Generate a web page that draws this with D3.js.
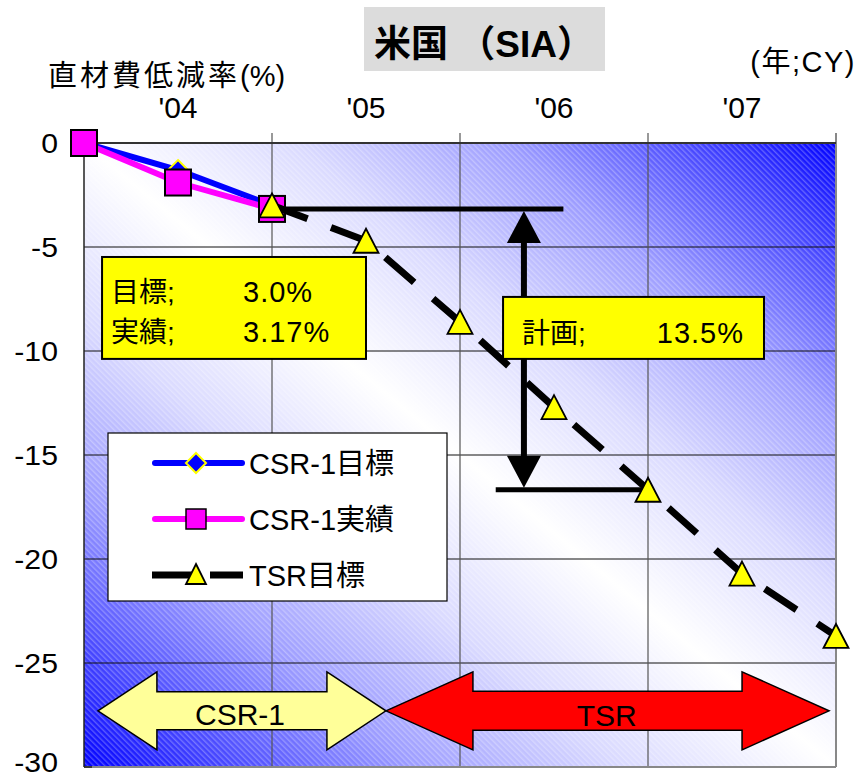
<!DOCTYPE html>
<html>
<head>
<meta charset="utf-8">
<script src="https://cdn.jsdelivr.net/npm/d3@7"></script>
<style>
  html, body { margin: 0; padding: 0; background: #ffffff; }
  svg { display: block; }
  text { font-family: "Liberation Sans", Arial, "Noto Sans CJK JP", sans-serif; fill: #000; }
</style>
</head>
<body>
<svg id="chart" width="864" height="780"></svg>
<script>
// Half-year time points (calendar years), reduction rates in %
const csrTime = [2004.0, 2004.5, 2005.0];
const csrTarget = [0, -1.3, -3.0];
const csrActual = [0, -1.9, -3.17];
const tsrTime = [2005.0, 2005.5, 2006.0, 2006.5, 2007.0, 2007.5, 2008.0];
const tsrTarget = [-3.0, -4.7, -8.6, -12.7, -16.67, -20.7, -23.7];

const yearTicks = [2004.5, 2005.5, 2006.5, 2007.5];
const yearLabels = ["'04", "'05", "'06", "'07"];
const gridYears = [2005, 2006, 2007];
const valueTicks = [0, -5, -10, -15, -20, -25, -30];

const planReduction = 13.5;
const targetText = "3.0%";
const actualText = "3.17%";
const planText = "13.5%";

const svg = d3.select("#chart");
const defs = svg.append("defs");

const x = d3.scaleLinear().domain([2004, 2008]).range([84, 836]);
const y = d3.scaleLinear().domain([0, -30]).range([143, 767]);

// Plot background: blue corners fading to a white diagonal, with fine hatching
const grad = defs.append("linearGradient").attr("id", "bg")
  .attr("x1", 1).attr("y1", 0).attr("x2", 0).attr("y2", 1);
[[0, "#0000ff"], [0.1, "#4848ff"], [0.22, "#9c9cff"], [0.36, "#dadaff"], [0.5, "#ffffff"],
 [0.64, "#dadaff"], [0.78, "#9c9cff"], [0.9, "#4848ff"], [1, "#0000ff"]]
  .forEach(([o, c]) => grad.append("stop").attr("offset", o).attr("stop-color", c));

const hatch = defs.append("pattern").attr("id", "hatch")
  .attr("patternUnits", "userSpaceOnUse").attr("width", 4).attr("height", 4)
  .attr("patternTransform", "rotate(-45)");
hatch.append("rect").attr("x", 0).attr("y", 0).attr("width", 1.4).attr("height", 4)
  .attr("fill", "#ffffff").attr("fill-opacity", 0.28);

const [x0, x1] = x.range();
const [y0, y1] = y.range();
svg.append("rect").attr("x", x0).attr("y", y0).attr("width", x1 - x0).attr("height", y1 - y0)
  .attr("fill", "url(#bg)");
svg.append("rect").attr("x", x0).attr("y", y0).attr("width", x1 - x0).attr("height", y1 - y0)
  .attr("fill", "url(#hatch)");

// Grid lines
svg.append("g").selectAll("line").data(valueTicks.filter(v => v !== 0 && v !== -30)).join("line")
  .attr("x1", x0).attr("x2", x1).attr("y1", d => y(d)).attr("y2", d => y(d))
  .attr("stroke", "#111").attr("stroke-width", 1);
svg.append("g").selectAll("line").data(gridYears).join("line")
  .attr("x1", d => x(d)).attr("x2", d => x(d)).attr("y1", y0 - 10).attr("y2", y1)
  .attr("stroke", "#555").attr("stroke-width", 1.2);
// Frame
svg.append("line").attr("x1", x1).attr("x2", x1).attr("y1", y0 - 10).attr("y2", y1)
  .attr("stroke", "#888").attr("stroke-width", 2);
svg.append("line").attr("x1", x0).attr("x2", x1).attr("y1", y1).attr("y2", y1)
  .attr("stroke", "#888").attr("stroke-width", 2);
svg.append("line").attr("x1", x0).attr("x2", x1).attr("y1", y0).attr("y2", y0)
  .attr("stroke", "#333").attr("stroke-width", 2);
svg.append("line").attr("x1", x0).attr("x2", x0).attr("y1", y0).attr("y2", y1)
  .attr("stroke", "#222").attr("stroke-width", 1.5);
svg.append("line").attr("x1", x0).attr("x2", x0 + 8).attr("y1", y1).attr("y2", y1)
  .attr("stroke", "#222").attr("stroke-width", 1.5);

// Value axis labels (plain hyphen as minus sign); the lowest one is kept inside the page
svg.append("g").selectAll("text").data(valueTicks).join("text")
  .attr("transform", d => `translate(58,${Math.min(y(d) + 10, 772)}) scale(1.12,1)`)
  .attr("text-anchor", "end").attr("font-size", 27)
  .text(d => String(d));

// Year labels on top
svg.append("g").selectAll("text").data(yearTicks).join("text")
  .attr("x", d => x(d)).attr("y", 118).attr("text-anchor", "middle").attr("font-size", 30)
  .text((d, i) => yearLabels[i]);

const yTitle = svg.append("text").attr("x", 48).attr("y", 86).attr("font-size", 29);
yTitle.append("tspan").attr("letter-spacing", 3).text("直材費低減率");
yTitle.append("tspan").text("(%)");
svg.append("text").attr("x", 856).attr("y", 72).attr("text-anchor", "end").attr("font-size", 29)
  .attr("letter-spacing", 1.5).text("(年;CY)");

// Title
svg.append("rect").attr("x", 364).attr("y", 7).attr("width", 241).attr("height", 64).attr("fill", "#dcdcdc");
svg.append("text").attr("x", 484).attr("y", 57).attr("text-anchor", "middle")
  .attr("font-size", 37).attr("font-weight", "bold").text("米国 （SIA）");

// Horizontal double arrow shape (annotation of plan periods)
function hArrow(xa, xb, yc, head, halfHead, halfShaft) {
  return `M${xa},${yc} L${xa + head},${yc - halfHead} L${xa + head},${yc - halfShaft}
    L${xb - head},${yc - halfShaft} L${xb - head},${yc - halfHead} L${xb},${yc}
    L${xb - head},${yc + halfHead} L${xb - head},${yc + halfShaft} L${xa + head},${yc + halfShaft}
    L${xa + head},${yc + halfHead} Z`;
}
const spanY = y(-27.3);
svg.append("path").attr("d", hArrow(x(2004.074), x(2005.606), spanY, 59, 39, 19))
  .attr("fill", "#ffff99").attr("stroke", "#000").attr("stroke-width", 1.5).attr("stroke-linejoin", "miter");
svg.append("path").attr("d", hArrow(x(2005.606), x(2007.963), spanY, 87, 39, 19.5))
  .attr("fill", "#ff0000").attr("stroke", "#000").attr("stroke-width", 1.5);
svg.append("text").attr("x", x(2004.83)).attr("y", spanY + 14).attr("text-anchor", "middle")
  .attr("font-size", 30).text("CSR-1");
svg.append("text").attr("x", x(2006.78)).attr("y", spanY + 15).attr("text-anchor", "middle")
  .attr("font-size", 30).text("TSR");

// Plan annotation: bracket lines and vertical double arrow
const planTop = csrActual[csrActual.length - 1];
const planBottom = planTop - planReduction;
svg.append("line").attr("x1", x(2005.0)).attr("x2", x(2006.55))
  .attr("y1", y(planTop)).attr("y2", y(planTop)).attr("stroke", "#000").attr("stroke-width", 5);
svg.append("line").attr("x1", x(2006.19)).attr("x2", x(2007.02))
  .attr("y1", y(planBottom)).attr("y2", y(planBottom)).attr("stroke", "#000").attr("stroke-width", 5);
const ax = x(2006.34), ayT = y(planTop) + 2, ayB = y(planBottom) - 2;
svg.append("line").attr("x1", ax).attr("x2", ax).attr("y1", ayT + 25).attr("y2", ayB - 25)
  .attr("stroke", "#000").attr("stroke-width", 6);
svg.append("path").attr("d", `M${ax},${ayT} L${ax - 17},${ayT + 32} L${ax + 17},${ayT + 32} Z`).attr("fill", "#000");
svg.append("path").attr("d", `M${ax},${ayB} L${ax - 17},${ayB - 32} L${ax + 17},${ayB - 32} Z`).attr("fill", "#000");

// Series lines and markers
const line = d3.line().x(d => x(d[0])).y(d => y(d[1]));
const csrT = csrTime.map((t, i) => [t, csrTarget[i]]);
const csrA = csrTime.map((t, i) => [t, csrActual[i]]);
const tsr = tsrTime.map((t, i) => [t, tsrTarget[i]]);

svg.append("path").attr("d", line(csrT)).attr("fill", "none").attr("stroke", "#0000ff").attr("stroke-width", 6);
svg.append("path").attr("d", line(csrA)).attr("fill", "none").attr("stroke", "#ff00ff").attr("stroke-width", 6);

const diamond = (cx, cy, r) => `M${cx},${cy - r} L${cx + r},${cy} L${cx},${cy + r} L${cx - r},${cy} Z`;
const triangle = (cx, cy, w, h) => `M${cx},${cy - h / 2} L${cx + w / 2},${cy + h / 2} L${cx - w / 2},${cy + h / 2} Z`;

svg.append("g").selectAll("path").data(csrT).join("path")
  .attr("d", d => diamond(x(d[0]), y(d[1]), 10))
  .attr("fill", "#0000ff").attr("stroke", "#ffff00").attr("stroke-width", 2);
svg.append("g").selectAll("rect").data(csrA).join("rect")
  .attr("x", d => x(d[0]) - 13).attr("y", d => y(d[1]) - 13).attr("width", 26).attr("height", 26)
  .attr("fill", "#ff00ff").attr("stroke", "#000").attr("stroke-width", 2);

svg.append("path").attr("d", line(tsr)).attr("fill", "none").attr("stroke", "#000")
  .attr("stroke-width", 7).attr("stroke-dasharray", "38,25");
svg.append("g").selectAll("path").data(tsr).join("path")
  .attr("d", d => triangle(x(d[0]), y(d[1]), 25, 24))
  .attr("fill", "#ffff00").attr("stroke", "#000").attr("stroke-width", 1.8).attr("stroke-linejoin", "miter");

// Callout boxes
function callout(xa, xb, ya, yb) {
  svg.append("rect").attr("x", x(xa)).attr("y", y(ya)).attr("width", x(xb) - x(xa)).attr("height", y(yb) - y(ya))
    .attr("fill", "#ffff00").attr("stroke", "#000").attr("stroke-width", 2);
}
callout(2004.096, 2005.5, -5.48, -10.38);
svg.append("text").attr("x", 111).attr("y", 302).attr("font-size", 28).text("目標;");
svg.append("text").attr("x", 243).attr("y", 302).attr("font-size", 29).attr("letter-spacing", 1).text(targetText);
svg.append("text").attr("x", 111).attr("y", 342).attr("font-size", 28).text("実績;");
svg.append("text").attr("x", 243).attr("y", 342).attr("font-size", 29).attr("letter-spacing", 1).text(actualText);

callout(2006.229, 2007.617, -7.4, -10.38);
svg.append("text").attr("x", 522).attr("y", 343).attr("font-size", 28).text("計画;");
svg.append("text").attr("x", 744).attr("y", 343).attr("text-anchor", "end").attr("font-size", 29)
  .attr("letter-spacing", 1).text(planText);

// Legend
const lg = svg.append("g");
lg.append("rect").attr("x", 108).attr("y", 433).attr("width", 339).attr("height", 168)
  .attr("fill", "#fff").attr("stroke", "#000").attr("stroke-width", 1.2);
const rows = [463, 519, 575];
lg.append("line").attr("x1", 155).attr("x2", 242).attr("y1", rows[0]).attr("y2", rows[0])
  .attr("stroke", "#0000ff").attr("stroke-width", 6).attr("stroke-linecap", "round");
lg.append("path").attr("d", diamond(196, rows[0], 10)).attr("fill", "#0000ff").attr("stroke", "#ffff00").attr("stroke-width", 2);
lg.append("line").attr("x1", 155).attr("x2", 242).attr("y1", rows[1]).attr("y2", rows[1])
  .attr("stroke", "#ff00ff").attr("stroke-width", 6).attr("stroke-linecap", "round");
lg.append("rect").attr("x", 186).attr("y", rows[1] - 10).attr("width", 20).attr("height", 20)
  .attr("fill", "#ff00ff").attr("stroke", "#000").attr("stroke-width", 1.5);
lg.append("line").attr("x1", 152).attr("x2", 243).attr("y1", rows[2]).attr("y2", rows[2])
  .attr("stroke", "#000").attr("stroke-width", 7).attr("stroke-dasharray", "40,18");
lg.append("path").attr("d", triangle(196, rows[2] - 1, 20, 20)).attr("fill", "#ffff00").attr("stroke", "#000").attr("stroke-width", 1.8);
const legendLabels = ["CSR-1目標", "CSR-1実績", "TSR目標"];
lg.selectAll("text.lbl").data(legendLabels).join("text").attr("class", "lbl")
  .attr("x", 249).attr("y", (d, i) => rows[i] + 11).attr("font-size", 29).text(d => d);
</script>
</body>
</html>
